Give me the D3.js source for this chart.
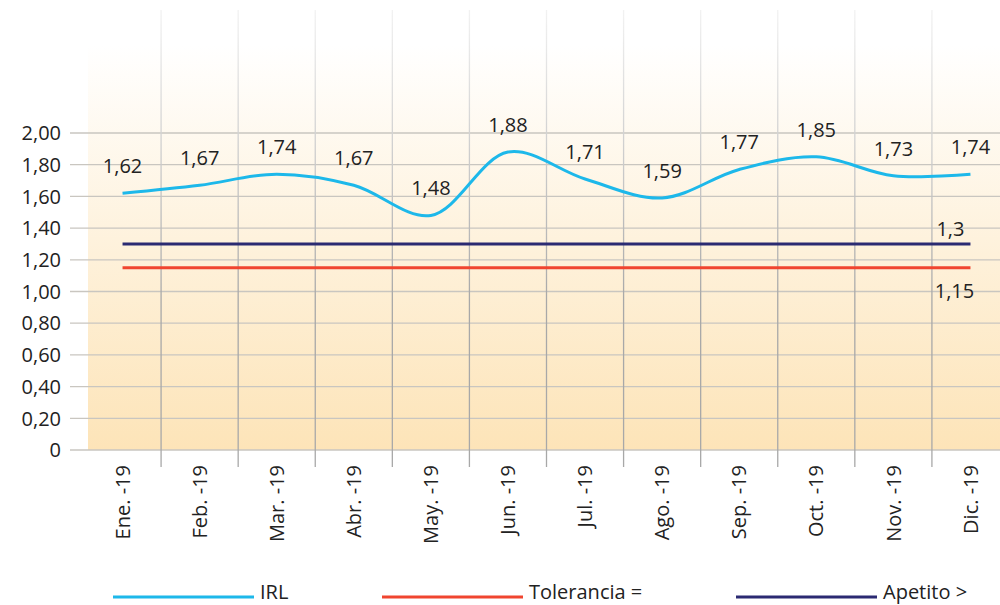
<!DOCTYPE html>
<html>
<head>
<meta charset="utf-8">
<script src="https://cdn.jsdelivr.net/npm/d3@7"></script>
<style>
  html, body { margin: 0; padding: 0; background: #ffffff; }
  svg { display: block; font-family: "Open Sans", sans-serif; }
</style>
</head>
<body>
<svg id="chart" width="1000" height="605"></svg>
<script>
const categories = ["Ene. -19","Feb. -19","Mar. -19","Abr. -19","May. -19","Jun. -19","Jul. -19","Ago. -19","Sep. -19","Oct. -19","Nov. -19","Dic. -19"];
const irl = [1.62,1.67,1.74,1.67,1.48,1.88,1.71,1.59,1.77,1.85,1.73,1.74];
const tolerancia = [1.15,1.15,1.15,1.15,1.15,1.15,1.15,1.15,1.15,1.15,1.15,1.15];
const apetito = [1.3,1.3,1.3,1.3,1.3,1.3,1.3,1.3,1.3,1.3,1.3,1.3];
const yTicks = [0,0.2,0.4,0.6,0.8,1.0,1.2,1.4,1.6,1.8,2.0];
const legendItems = ["IRL","Tolerancia =","Apetito >"];

const svg = d3.select("#chart");
const x = d3.scaleBand().domain(categories).range([84, 1009]).padding(0);
const y = d3.scaleLinear().domain([0, 2]).range([450, 133]);
const cx = d => x(d) + x.bandwidth() / 2;
const fmt = v => (v === 0 ? "0" : d3.format(".2f")(v).replace(".", ","));
const fmtLbl = v => String(v).replace(".", ",");

const defs = svg.append("defs");
const bg = defs.append("linearGradient").attr("id", "bg")
  .attr("x1", 0).attr("y1", 0).attr("x2", 0).attr("y2", 1);
bg.append("stop").attr("offset", "0%").attr("stop-color", "#ffffff");
bg.append("stop").attr("offset", "100%").attr("stop-color", "#fde4b8");
const vg = defs.append("linearGradient").attr("id", "vgrid")
  .attr("gradientUnits", "userSpaceOnUse")
  .attr("x1", 0).attr("y1", 10).attr("x2", 0).attr("y2", 300);
vg.append("stop").attr("offset", "0%").attr("stop-color", "#f2f2f2");
vg.append("stop").attr("offset", "100%").attr("stop-color", "#a8a8a8");

// plot background
svg.append("rect").attr("x", 88).attr("y", 45).attr("width", 912).attr("height", 405)
  .attr("fill", "url(#bg)");

// horizontal grid
svg.append("g").selectAll("line").data(yTicks).join("line")
  .attr("x1", 70).attr("x2", 1000)
  .attr("y1", d => y(d)).attr("y2", d => y(d))
  .attr("stroke", "#c9c6c0").attr("stroke-width", 1.3);

// vertical grid
svg.append("g").selectAll("line").data(categories.slice(1)).join("line")
  .attr("x1", d => x(d)).attr("x2", d => x(d))
  .attr("y1", 10).attr("y2", 467)
  .attr("stroke", "url(#vgrid)").attr("stroke-width", 1.3);

// y axis labels
svg.append("g").selectAll("text").data(yTicks).join("text")
  .attr("x", 61).attr("y", d => y(d)).attr("dy", "0.36em")
  .attr("text-anchor", "end").attr("font-size", 20).attr("fill", "#222")
  .text(fmt);

// x labels
svg.append("g").selectAll("text").data(categories).join("text")
  .attr("transform", d => `translate(${cx(d)},465) rotate(-90)`)
  .attr("dy", "0.36em").attr("text-anchor", "end")
  .attr("font-size", 20).attr("fill", "#222")
  .text(d => d);

// flat lines
const flat = d3.line().x((d, i) => cx(categories[i])).y(d => y(d));
svg.append("path").datum(tolerancia).attr("d", flat)
  .attr("fill", "none").attr("stroke", "#f0452f").attr("stroke-width", 3);
svg.append("path").datum(apetito).attr("d", flat)
  .attr("fill", "none").attr("stroke", "#2b2a72").attr("stroke-width", 3);

// IRL smooth line
const smooth = d3.line().x((d, i) => cx(categories[i])).y(d => y(d))
  .curve(d3.curveCatmullRom.alpha(0.5));
svg.append("path").datum(irl).attr("d", smooth)
  .attr("fill", "none").attr("stroke", "#1db8ea").attr("stroke-width", 3);

// IRL labels
svg.append("g").selectAll("text").data(irl).join("text")
  .attr("x", (d, i) => cx(categories[i]))
  .attr("y", d => y(d) - 20)
  .attr("text-anchor", "middle").attr("font-size", 20).attr("fill", "#222")
  .text(fmtLbl);

// threshold labels
const last = categories[categories.length - 1];
svg.append("text").attr("x", cx(last) - 20).attr("y", y(apetito[11]) - 8)
  .attr("text-anchor", "middle").attr("font-size", 20).attr("fill", "#222")
  .text(fmtLbl(apetito[11]));
svg.append("text").attr("x", cx(last) - 16).attr("y", y(tolerancia[11]) + 30)
  .attr("text-anchor", "middle").attr("font-size", 20).attr("fill", "#222")
  .text(fmtLbl(tolerancia[11]));

// legend
const legendColors = ["#1db8ea", "#f0452f", "#2b2a72"];
const legendX = [113, 382, 736];
const lg = svg.append("g");
legendItems.forEach((name, i) => {
  lg.append("line").attr("x1", legendX[i]).attr("x2", legendX[i] + 141)
    .attr("y1", 597).attr("y2", 597)
    .attr("stroke", legendColors[i]).attr("stroke-width", 3);
  lg.append("text").attr("x", legendX[i] + 147).attr("y", 599)
    .attr("font-size", 20).attr("fill", "#222").text(name);
});
</script>
</body>
</html>
